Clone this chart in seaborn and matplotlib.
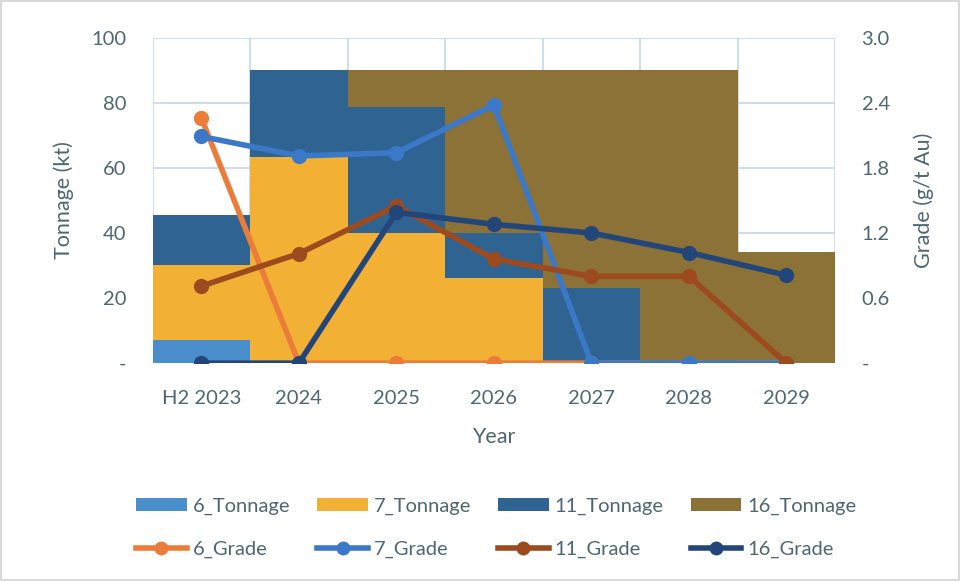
#!/usr/bin/env python3
"""
Mine plan: tonnage by source (stacked bars) and grade (lines, right axis)
"""

import numpy as np
import pandas as pd
import matplotlib.pyplot as plt
from matplotlib.patches import Patch
from matplotlib.lines import Line2D
import seaborn as sns

# === Data ===
years = ["H2 2023", "2024", "2025", "2026", "2027", "2028", "2029"]

tonnage_6 = [7.1, 0, 0, 0, 0, 0, 0]
tonnage_7 = [23.1, 63.5, 40.1, 26.1, 0, 0, 0]
tonnage_11 = [15.4, 26.7, 38.6, 13.8, 23.0, 1.1, 0]
tonnage_16 = [0, 0, 11.5, 50.3, 67.2, 89.1, 34.3]

grade_6 = [2.26, 0, 0, 0, 0, 0, 0]
grade_7 = [2.09, 1.91, 1.94, 2.38, 0, 0, 0]
grade_11 = [0.71, 1.01, 1.45, 0.96, 0.80, 0.80, 0]
grade_16 = [0, 0, 1.39, 1.28, 1.20, 1.02, 0.81]

tonnage_colors = ["#4A8FCB", "#F2B134", "#2F6391", "#8C7236"]
grade_colors = ["#EC7C3A", "#3C78C8", "#9C4A1E", "#23467A"]
text_col = "#4e6673"

# === Plotting ===
plt.rcParams['font.family'] = ['Lato', 'DejaVu Sans']
fig = plt.figure(figsize=(9.6, 5.81), dpi=100, edgecolor="#d9d9d9", linewidth=1.5)
ax = fig.add_axes([0.159, 0.375, 0.711, 0.560])

# stacked bars drawn as overlapping cumulative totals (largest first)
stack = np.array([tonnage_6, tonnage_7, tonnage_11, tonnage_16])
cum = stack.cumsum(axis=0)
for i in range(3, -1, -1):
    df = pd.DataFrame({"year": years, "tonnage": cum[i]})
    sns.barplot(data=df, x="year", y="tonnage", color=tonnage_colors[i],
                width=1.0, linewidth=0, saturation=1, ax=ax, zorder=2)

ax.set_xlim(-0.5, 6.5)
ax.set_ylim(0, 100)
ax.set_yticks([0, 20, 40, 60, 80, 100])
ax.set_yticklabels(["-", "20", "40", "60", "80", "100"])
ax.set_xticks(np.arange(-0.5, 7, 1), minor=True)
ax.grid(False)
ax.grid(True, which="minor", axis="x", color="#c4d8e4", linewidth=1.2, zorder=0)
ax.grid(True, which="major", axis="y", color="#c4d8e4", linewidth=1.2, zorder=0)
ax.set_axisbelow(True)
ax.tick_params(which="both", length=0)
ax.tick_params(axis="y", labelsize=14.5, labelcolor=text_col, pad=19)
ax.tick_params(axis="x", labelsize=14.5, labelcolor=text_col, pad=19)
for s in ax.spines.values():
    s.set_visible(False)
ax.set_xlabel("Year", fontsize=15.5, color=text_col, labelpad=15)
ax.set_ylabel("Tonnage (kt)", fontsize=15.5, color=text_col, labelpad=12)

# grades on the secondary axis
ax2 = ax.twinx()
pos = np.arange(len(years))
for vals, col in zip([grade_6, grade_7, grade_11, grade_16], grade_colors):
    sns.lineplot(x=pos, y=vals, color=col, linewidth=4, marker="o",
                 markersize=11, markeredgewidth=0, ax=ax2)
ax2.set_ylim(0, 3.0)
ax2.set_yticks([0, 0.6, 1.2, 1.8, 2.4, 3.0])
ax2.set_yticklabels(["-", "0.6", "1.2", "1.8", "2.4", "3.0"])
ax2.tick_params(length=0, labelsize=14.5, labelcolor=text_col, pad=19)
for s in ax2.spines.values():
    s.set_visible(False)
ax2.set_ylabel("Grade (g/t Au)", fontsize=15.5, color=text_col, labelpad=17)
ax2.set_xlim(-0.5, 6.5)

# legend: tonnage on first row, grades on second
names = ["6", "7", "11", "16"]
handles, labels = [], []
for n, tc, gc in zip(names, tonnage_colors, grade_colors):
    handles.append(Patch(facecolor=tc, edgecolor="none"))
    labels.append(f"{n}_Tonnage")
    handles.append(Line2D([0], [0], color=gc, linewidth=4, marker="o", markersize=9))
    labels.append(f"{n}_Grade")
fig.legend(handles, labels, ncol=4, loc="center", bbox_to_anchor=(0.517, 0.091),
           frameon=False, fontsize=14.5, labelcolor=text_col, handlelength=2.5,
           handleheight=0.6, handletextpad=0.3, columnspacing=1.35, labelspacing=1.3)

fig.savefig("out.png", dpi=100, edgecolor=fig.get_edgecolor())
